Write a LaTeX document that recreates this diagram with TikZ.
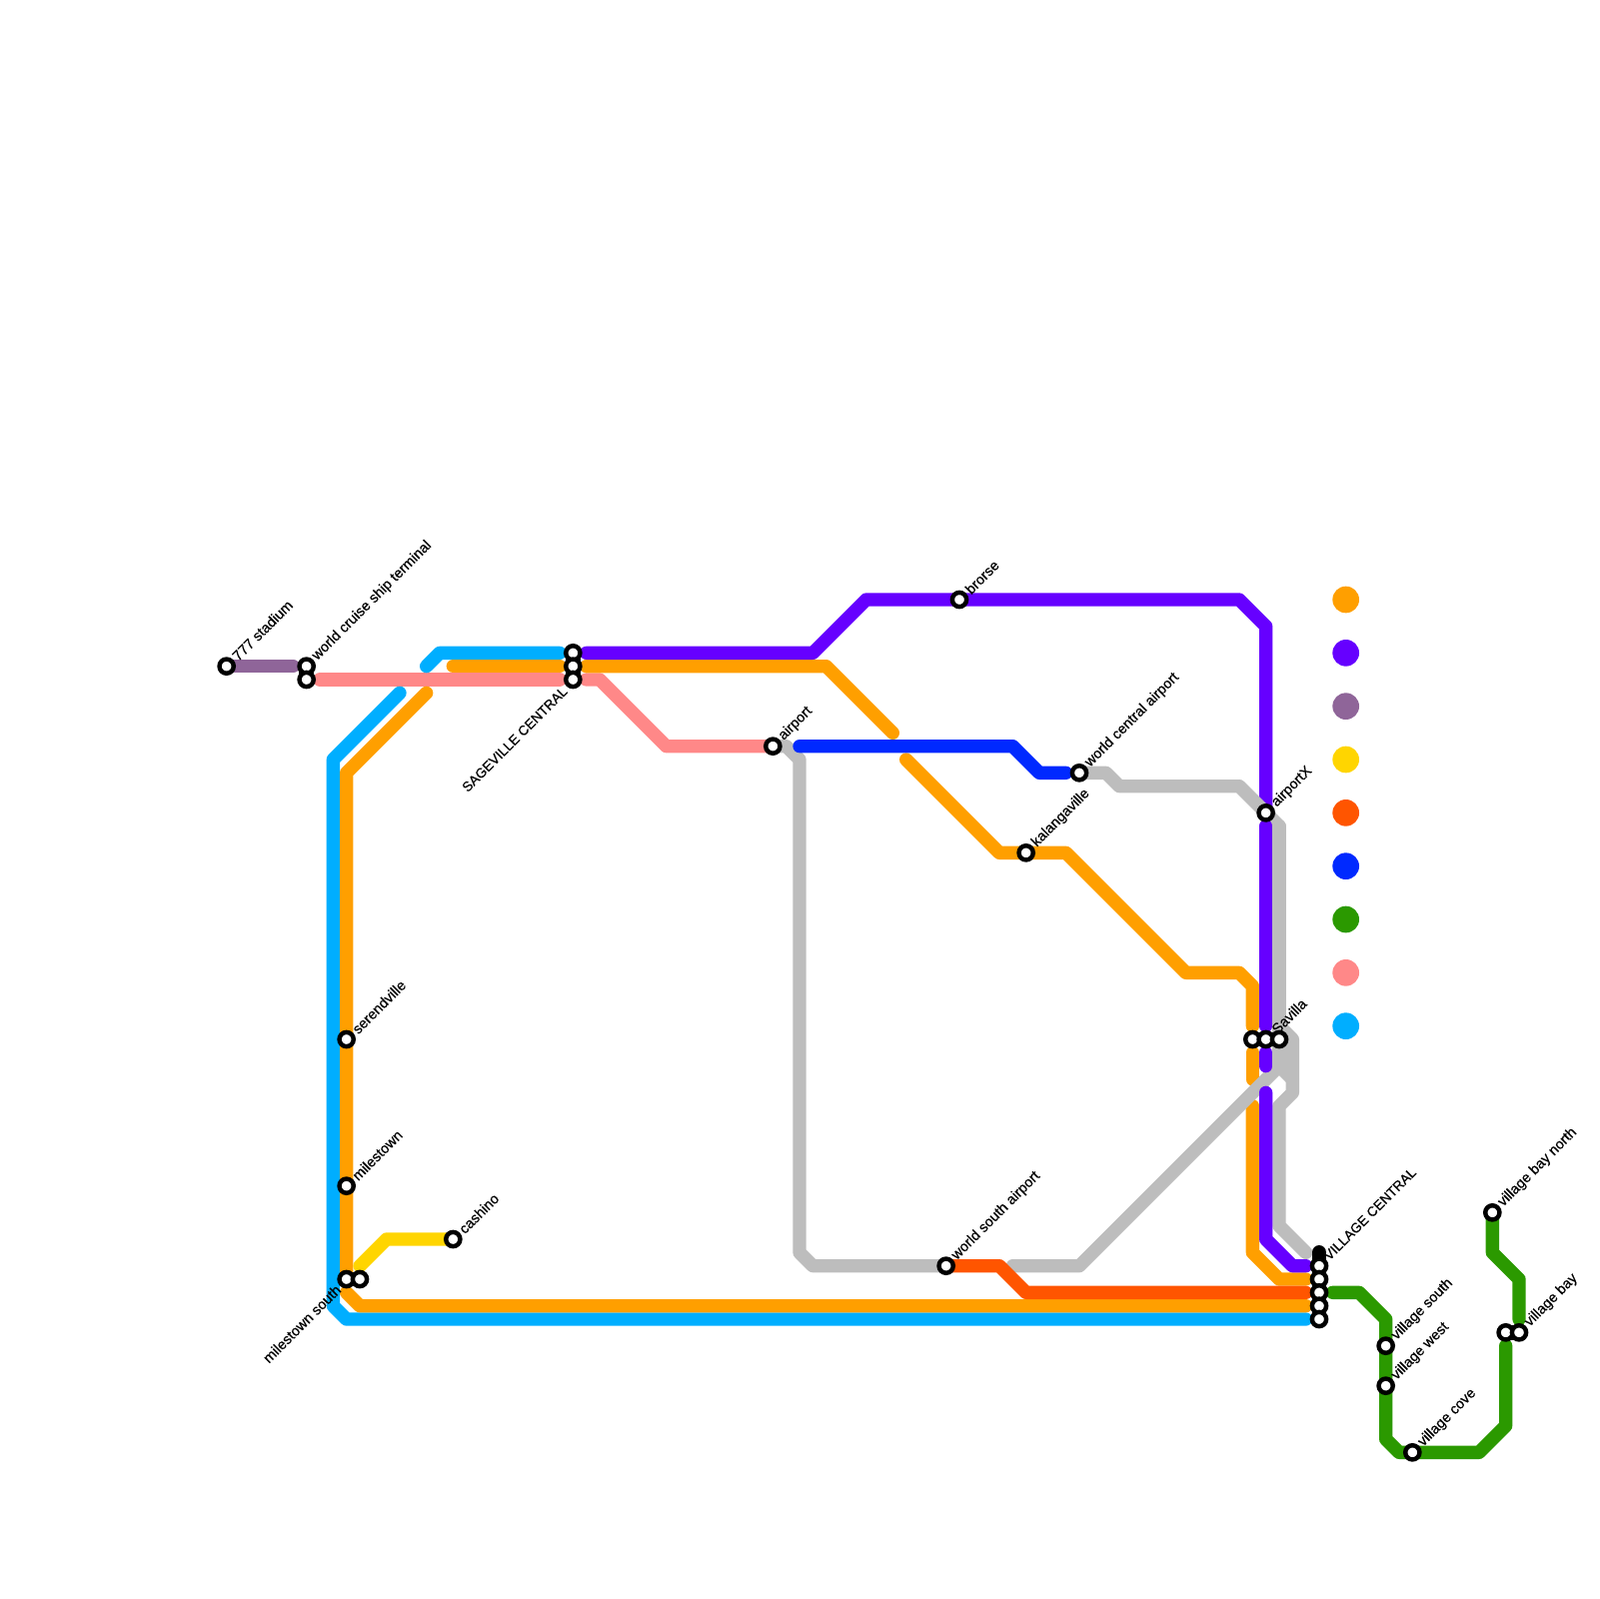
\documentclass[tikz,border=0pt]{standalone}
\usepackage{fontspec}
\setmainfont{Liberation Sans}
\definecolor{lineorange}{HTML}{FF9F00}
\definecolor{lineviolet}{HTML}{6600FF}
\definecolor{linemauve}{HTML}{8F6599}
\definecolor{lineyellow}{HTML}{FFD500}
\definecolor{linered}{HTML}{FF5500}
\definecolor{lineblue}{HTML}{0029FF}
\definecolor{linegreen}{HTML}{2B9900}
\definecolor{linepink}{HTML}{FF8888}
\definecolor{linecyan}{HTML}{00AEFF}
\definecolor{linegray}{HTML}{BDBDBD}
\tikzset{
  route/.style    = {line width=3mm, line cap=round, line join=round},
  stnlink/.style  = {line width=3.3mm, line cap=round, black},
  stn/.style      = {circle, draw=black, fill=white, line width=1mm,
                     minimum size=3.2mm, inner sep=0pt},
  stnlabel/.style = {font=\fontsize{9.2}{11}\selectfont\addfontfeature{FakeBold=0.4}, rotate=45, anchor=west, inner sep=0pt},
  stnlabelL/.style = {stnlabel, anchor=east},
  capslabel/.style = {font=\fontsize{8.7}{11}\selectfont\addfontfeature{FakeBold=0.4}},
  legenddot/.style = {circle, inner sep=0pt, minimum size=6mm}
}
\begin{document}
\begin{tikzpicture}[x=3mm,y=-3mm]
  \useasboundingbox (0,0) rectangle (120,120);
  \foreach \name/\x/\y in {stadium/17/50, cruise/23/50, cruiseb/23/51, serend/26/78, miles/26/89,
        milessouth/26/96, milessouthb/27/96, cashino/34/93, sagea/43/49, sageb/43/50, sagec/43/51,
        airport/58/56, brorse/72/45, southair/71/95, kalanga/77/64, centralair/81/58, airportx/95/61,
        savilla/94/78, savillab/95/78, savillac/96/78, vcentop/99/94, vcen/99/95, vcenb/99/96,
        vcenc/99/97, vcend/99/98, vcene/99/99, vsouth/104/101, vwest/104/104, vcove/106/109,
        vbaynorth/112/91, vbay/113/100, vbayb/114/100}
    { \coordinate (\name) at (\x,\y); }

  \draw[route,linemauve] (stadium) -- (22,50);
  \draw[route,linepink] (24,51) -- (42,51);
  \draw[route,linepink] (44,51) -- (45,51) -- (50,56) -- (airport);
  \draw[route,linecyan] (32,50) -- (33,49) -- (42,49);
  \draw[route,linecyan] (30,52) -- (25,57) -- (25,98) -- (26,99) -- (98,99);
  \draw[route,lineorange] (34,50) -- (42,50);
  \draw[route,lineorange] (44,50) -- (62,50) -- (67,55);
  \draw[route,lineorange] (68,57) -- (75,64) -- (80,64) -- (89,73) -- (93,73) -- (94,74) -- (94,77);
  \draw[route,lineorange] (94,79) -- (94,81);
  \draw[route,lineorange] (94,83) -- (94,94) -- (96,96) -- (98,96);
  \draw[route,lineorange] (32,52) -- (26,58) -- (milessouth);
  \draw[route,lineorange] (26,97) -- (27,98) -- (98,98);
  \draw[route,lineyellow] (27,95) -- (29,93) -- (cashino);
  \draw[route,lineviolet] (44,49) -- (61,49) -- (65,45) -- (93,45) -- (95,47) -- (airportx);
  \draw[route,linegray] (airport) -- (59,56) -- (60,57) -- (60,94) -- (61,95) -- (southair);
  \draw[route,linegray] (centralair) -- (83,58) -- (84,59) -- (93,59) -- (96,62) -- (96,77)
        -- (97,78) -- (97,82) -- (96,83) -- (96,92) -- (98,94);
  \draw[route,linegray] (96,62) -- (96,80);
  \draw[route,linegray] (76,95) -- (81,95) -- (96,80) -- (97,81);
  \draw[route,lineviolet] (95,62) -- (95,77);
  \draw[route,lineviolet] (95,79) -- (95,80);
  \draw[route,lineviolet] (95,82) -- (95,93) -- (97,95) -- (98,95);
  \draw[route,linered] (southair) -- (75,95) -- (77,97) -- (98,97);
  \draw[route,lineblue] (60,56) -- (76,56) -- (78,58) -- (80,58);
  \draw[route,linegreen] (100,97) -- (102,97) -- (104,99) -- (104,108) -- (105,109) -- (111,109)
        -- (113,107) -- (113,101);
  \draw[route,linegreen] (vbaynorth) -- (112,94) -- (114,96) -- (114,99);

  \draw[stnlink] (cruise) -- (cruiseb);
  \draw[stnlink] (milessouth) -- (milessouthb);
  \draw[stnlink] (sagea) -- (sagec);
  \draw[stnlink] (savilla) -- (savillac);
  \draw[stnlink] (vcentop) -- (vcene);
  \draw[stnlink] (vbay) -- (vbayb);

  \foreach \name in {stadium, cruise, cruiseb, serend, miles, milessouth, milessouthb, cashino,
        sagea, sageb, sagec, airport, brorse, southair, kalanga, centralair, airportx, savilla,
        savillab, savillac, vcen, vcenb, vcenc, vcend, vcene, vsouth, vwest, vcove, vbaynorth,
        vbay, vbayb}
    { \node[stn] (\name stn) at (\name) {}; }

  \foreach \name/\txt in {stadium/777 stadium, cruise/world cruise ship terminal, serend/serendville,
        miles/milestown, cashino/cashino, airport/airport, brorse/brorse, southair/world south airport,
        kalanga/kalangaville, centralair/world central airport, airportx/airportX, savillab/Savilla,
        vsouth/village south, vwest/village west, vcove/village cove,
        vbaynorth/village bay north, vbayb/village bay}
    { \node[stnlabel] (\name label) at ([shift={(0.6,-0.6)}]\name) {\txt}; }
  \node[stnlabel,capslabel] (vcenlabel) at ([shift={(0.5,-0.6)}]vcen) {VILLAGE CENTRAL};
  \node[stnlabelL,capslabel] (sagelabel) at ([shift={(-0.6,0.7)}]sagec) {SAGEVILLE CENTRAL};
  \node[stnlabelL] (mileslabel) at ([shift={(-0.6,0.6)}]milessouth) {milestown south};

  \foreach \col [count=\i from 0] in {lineorange,lineviolet,linemauve,lineyellow,linered,
        lineblue,linegreen,linepink,linecyan}
    { \node[legenddot,fill=\col] (legend\i) at (101,45+4*\i) {}; }
\end{tikzpicture}
\end{document}
